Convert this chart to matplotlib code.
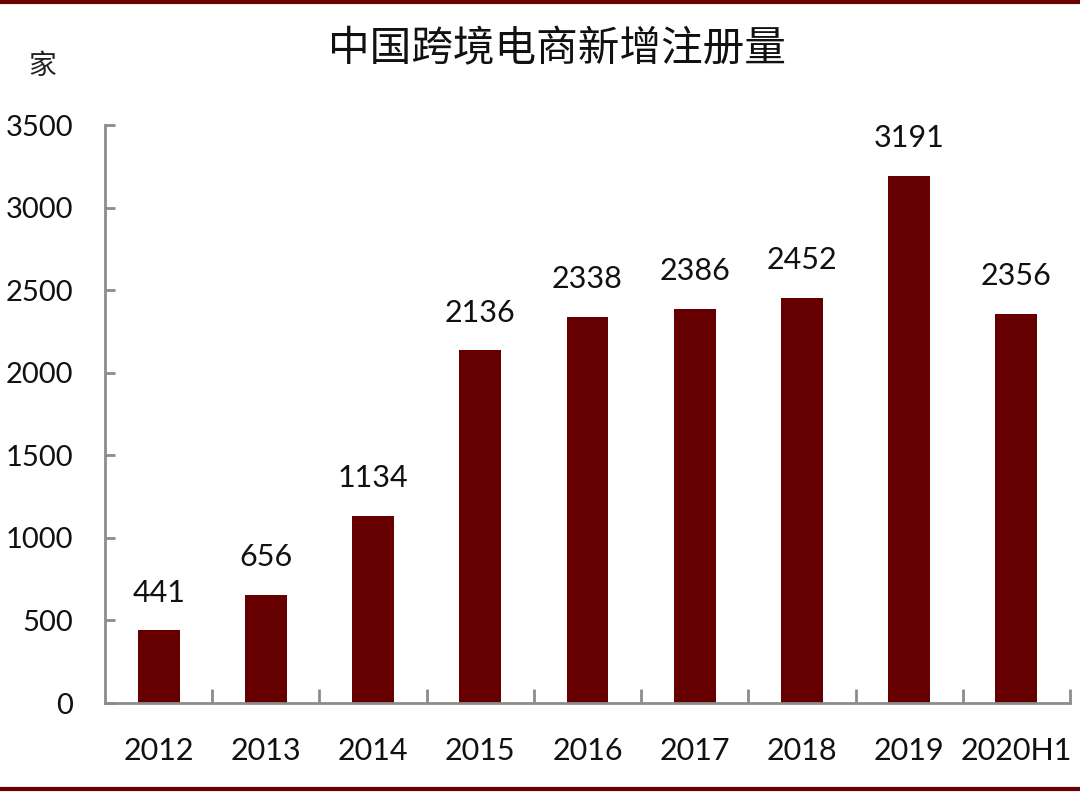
import matplotlib.pyplot as plt
from matplotlib.lines import Line2D

plt.rcParams['font.family'] = ['Lato', 'Noto Sans CJK SC', 'DejaVu Sans']

# data
years = ["2012", "2013", "2014", "2015", "2016", "2017", "2018", "2019", "2020H1"]
registrations = [441, 656, 1134, 2136, 2338, 2386, 2452, 3191, 2356]

bar_color = "#660000"
axis_color = "#8c8c8c"

fig = plt.figure(figsize=(10.8, 7.94), dpi=100)
ax = fig.add_axes([105 / 1080, 1 - 703 / 794, 965 / 1080, 578 / 794])

x = range(len(years))
bars = ax.bar(x, registrations, width=0.39, color=bar_color)

for xi, v in zip(x, registrations):
    ax.annotate(str(v), (xi, v), xytext=(0, 17), textcoords="offset points",
                ha="center", va="bottom", fontsize=22, color="#111111")

ax.set_xlim(-0.5, len(years) - 0.5)
ax.set_ylim(0, 3500)
ax.set_yticks(range(0, 3501, 500))
ax.tick_params(axis="y", direction="in", length=7, width=2, color=axis_color,
               labelsize=21, pad=23, labelcolor="#111111")

# category labels, boundary ticks
ax.set_xticks([i + 0.5 for i in range(len(years))])
ax.set_xticklabels([])
ax.tick_params(axis="x", direction="in", length=10, width=2, color=axis_color)
for xi, lab in zip(x, years):
    ax.text(xi, -0.083, lab, transform=ax.get_xaxis_transform(),
            ha="center", va="center", fontsize=22, color="#111111")

for side in ["top", "right"]:
    ax.spines[side].set_visible(False)
for side in ["left", "bottom"]:
    ax.spines[side].set_color(axis_color)
    ax.spines[side].set_linewidth(2)

fig.text(557 / 1080, 1 - 50 / 794, "中国跨境电商新增注册量", ha="center", va="center",
         fontsize=30, weight="medium", family=["Noto Sans CJK SC"], color="#111111")
fig.text(42 / 1080, 1 - 66 / 794, "家", ha="center", va="center",
         fontsize=20, family=["Noto Sans CJK SC"], color="#222222")

# red rules at top and bottom
fig.add_artist(Line2D([0, 1], [1 - 1.5 / 794, 1 - 1.5 / 794], color="#6b0000", lw=3))
fig.add_artist(Line2D([0, 1], [1 - 788.5 / 794, 1 - 788.5 / 794], color="#6b0000", lw=3))

fig.savefig("out.png", dpi=100)
